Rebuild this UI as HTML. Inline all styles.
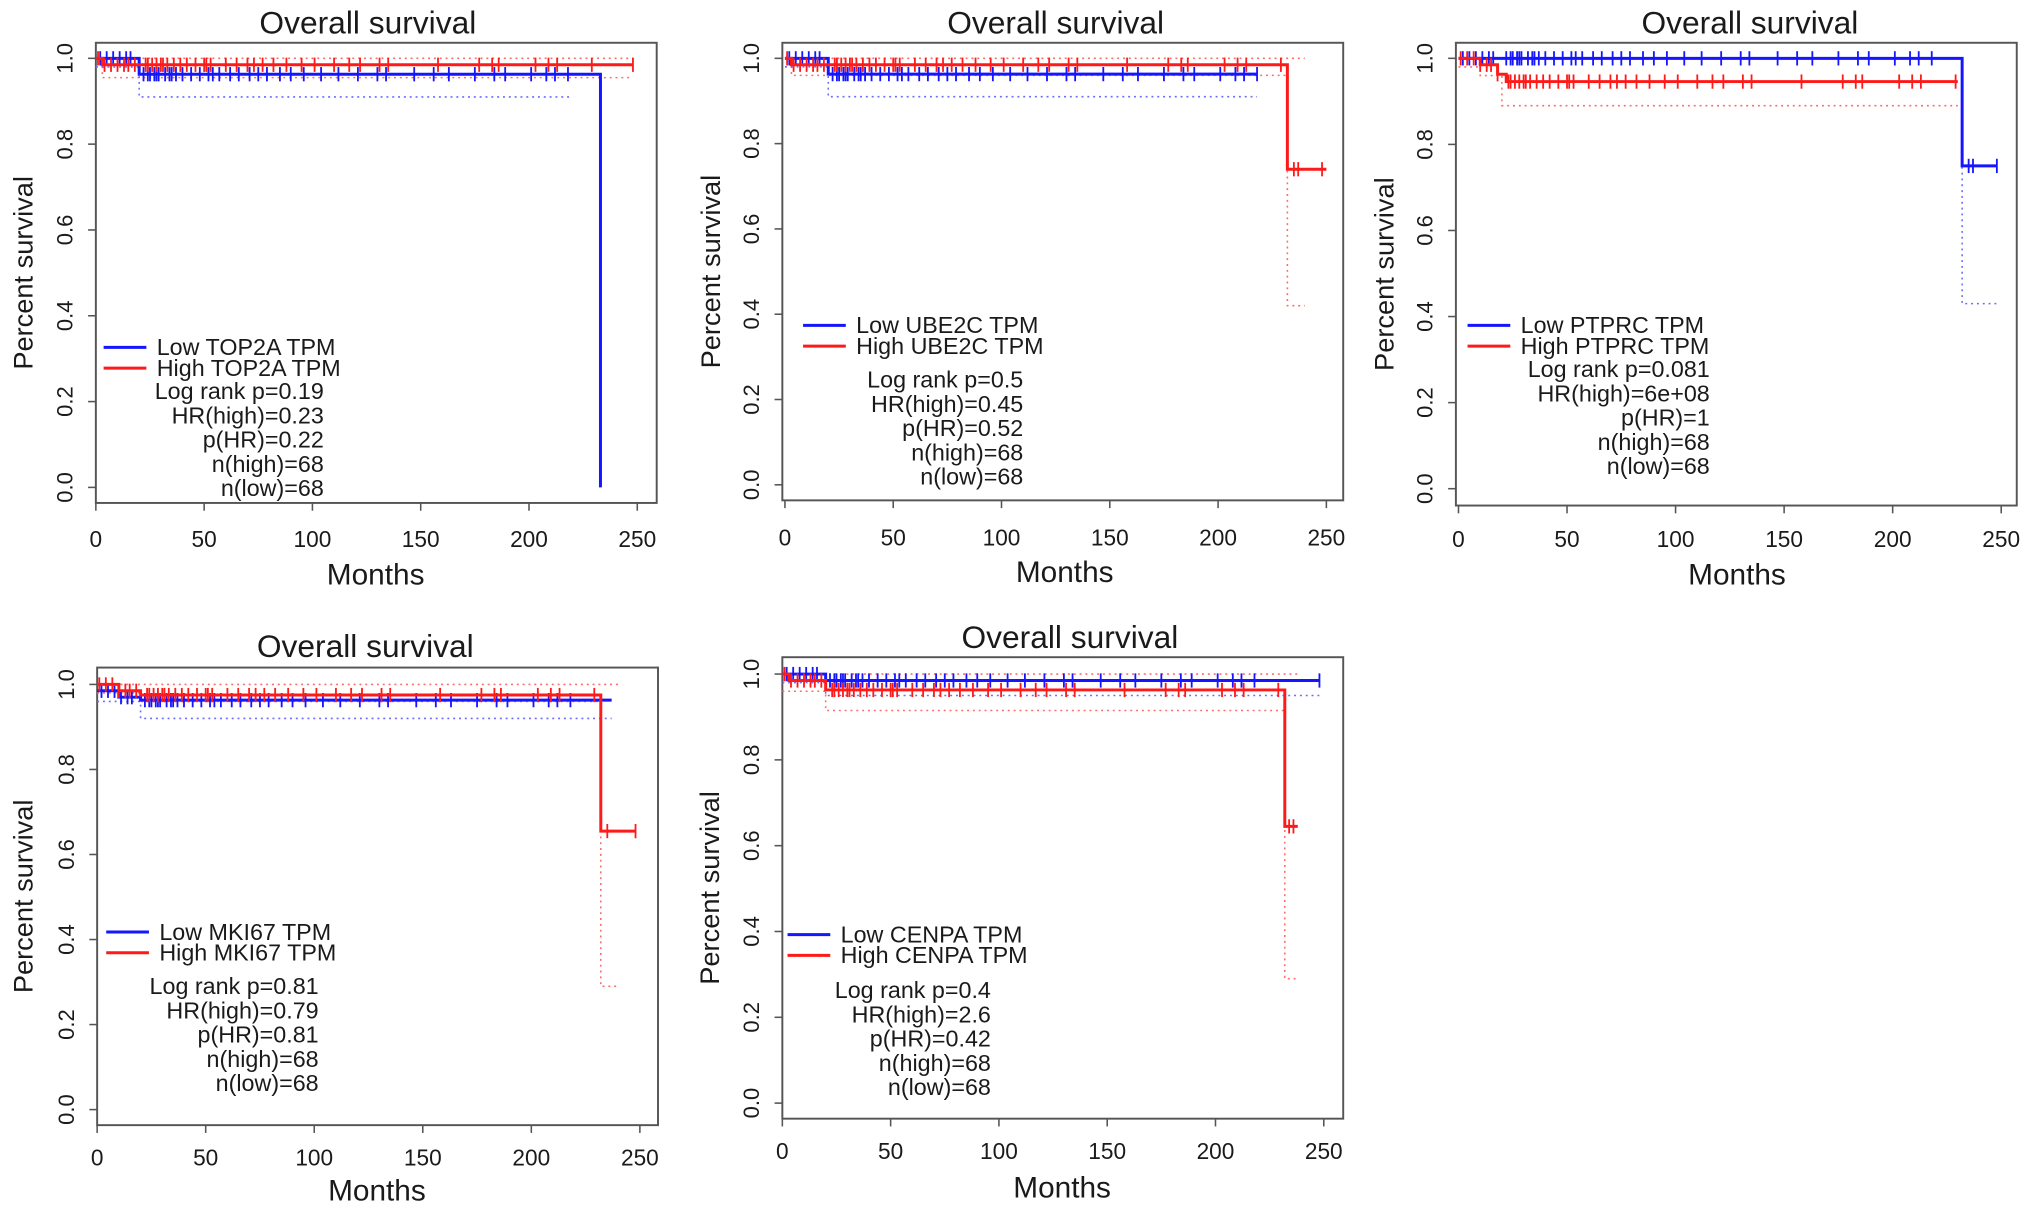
<!DOCTYPE html>
<html><head><meta charset="utf-8"><style>
html,body{margin:0;padding:0;background:#fff;}
svg{display:block;}
text{font-family:"Liberation Sans",Arial,sans-serif;fill:#1a1a1a;}
</style></head><body>
<svg id="fig" width="2031" height="1212" viewBox="0 0 1568 935" preserveAspectRatio="none" xmlns="http://www.w3.org/2000/svg"></svg>
<script>
// ---- data ----
const xTicks = [0, 50, 100, 150, 200, 250];
const yTicks = [0.0, 0.2, 0.4, 0.6, 0.8, 1.0];
const yTickLabels = ["0.0", "0.2", "0.4", "0.6", "0.8", "1.0"];
const genes = ["TOP2A", "UBE2C", "PTPRC", "MKI67", "CENPA"];
const statsLogRank = ["0.19", "0.5", "0.081", "0.81", "0.4"];
const statsHR = ["0.23", "0.45", "6e+08", "0.79", "2.6"];
const statsPHR = ["0.22", "0.52", "1", "0.81", "0.42"];
const nHigh = [68, 68, 68, 68, 68];
const nLow = [68, 68, 68, 68, 68];

// survival step curves: times / values (low = blue, high = red)
const lowTimes = [[0, 20, 233, 233], [0, 20, 218], [0, 232, 248], [0, 10, 20, 237], [0, 20, 248]];
const lowSurv = [[1.0, 0.963, 0.0, 0.0], [1.0, 0.963, 0.963], [1.0, 0.75, 0.75], [0.985, 0.97, 0.963, 0.963], [1.0, 0.985, 0.985]];
const highTimes = [[0, 3, 248], [0, 3, 232, 250], [0, 10, 18, 22, 230], [0, 10, 20, 232, 248], [0, 3, 20, 232, 238]];
const highSurv = [[1.0, 0.985, 0.985], [1.0, 0.985, 0.74, 0.74], [1.0, 0.985, 0.963, 0.946, 0.946], [1.0, 0.985, 0.975, 0.655, 0.655], [1.0, 0.985, 0.963, 0.645, 0.645]];
// CI lower bounds
const lowCITimes = [[0, 20, 220], [0, 20, 218], [0, 232, 248], [0, 20, 237], [0, 20, 248]];
const lowCIVals = [[0.98, 0.91, 0.91], [0.98, 0.91, 0.91], [1.0, 0.43, 0.43], [0.96, 0.92, 0.92], [0.98, 0.95, 0.95]];
const highCITimes = [[0, 3, 248], [0, 3, 232, 240], [0, 10, 20, 230], [0, 20, 232, 240], [0, 20, 232, 238]];
const highCIVals = [[0.98, 0.955, 0.955], [0.98, 0.96, 0.42, 0.42], [0.98, 0.96, 0.89, 0.89], [0.98, 0.96, 0.29, 0.29], [0.96, 0.915, 0.29, 0.29]];
// censor times
const censorA = [2, 5, 8, 11, 14, 16, 22, 24, 25, 27, 28, 29, 32, 34, 35, 37, 40, 44, 48, 52, 54, 57, 62, 66, 71, 75, 79, 85, 90, 96, 104, 112, 121, 130, 134, 147, 156, 163, 175, 184, 189, 201, 208, 212, 218];
const censorB = [1, 4, 7, 10, 13, 15, 18, 23, 24, 26, 28, 30, 31, 33, 36, 39, 42, 46, 50, 51, 53, 60, 65, 70, 73, 77, 82, 88, 95, 101, 110, 117, 122, 131, 135, 158, 177, 183, 186, 203, 209, 213, 229];
const lateLow = [[], [], [235, 237, 248], [], [248]];
const lateHigh = [[248], [235, 237, 248], [], [235, 248], [234, 236]];

// ---- layout (in viewBox units) ----
const panels = [
 {x0:74, x250:492, y1:45, y0:376, box:[74,33,507,388], tx:284, ty:18, tick:416, mx:290, my:443, yl:18, leg:[268,284], lx:80, sx:250, sy:302},
 {x0:606, x250:1024, y1:45, y0:374, box:[604,33,1037,386], tx:815, ty:18, tick:415, mx:822, my:441, yl:549, leg:[251,267], lx:620, sx:790, sy:293},
 {x0:1126, x250:1545, y1:45, y0:377, box:[1124,33,1557,390], tx:1351, ty:18, tick:416, mx:1341, my:443, yl:1069, leg:[251,267], lx:1133, sx:1320, sy:285},
 {x0:75, x250:494, y1:528, y0:856, box:[75,515,508,868], tx:282, ty:499, tick:893, mx:291, my:918, yl:18, leg:[719,735], lx:82, sx:246, sy:761},
 {x0:604, x250:1022, y1:520, y0:851, box:[604,507,1037,863], tx:826, ty:492, tick:888, mx:820, my:916, yl:548, leg:[721,737], lx:608, sx:765, sy:764}
];
const NS = "http://www.w3.org/2000/svg";
const fig = document.getElementById("fig");
function mk(tag, attrs, parent){const e=document.createElementNS(NS,tag);for(const k in attrs)e.setAttribute(k,attrs[k]);(parent||fig).appendChild(e);return e;}
function stepD(ts, vs, sx, sy){let d="M"+sx(ts[0])+","+sy(vs[0]);for(let i=1;i<ts.length;i++){d+=" H"+sx(ts[i])+" V"+sy(vs[i]);}return d;}
function survAt(ts, vs, t){let v=vs[0];for(let i=0;i<ts.length;i++){if(ts[i]<=t)v=vs[i];}return v;}

panels.forEach((p, i) => {
  const g = mk("g", {});
  
  
  const sx = t => p.x0 + (p.x250 - p.x0) * t / 250;
  const sy = v => p.y0 + (p.y1 - p.y0) * v;
  const b = p.box;
  const box = mk("rect", {x:b[0], y:b[1], width:b[2]-b[0], height:b[3]-b[1], fill:"none", stroke:"#555", "stroke-width":1.5}, g);
  
  
  const title = mk("text", {x:p.tx, y:p.ty+8, "font-size":24.5, "text-anchor":"middle"}, g);
  title.textContent = "Overall survival";
  
  
  // x axis
  xTicks.forEach(t => {
    mk("line", {x1:sx(t), x2:sx(t), y1:b[3], y2:b[3]+6, stroke:"#555", "stroke-width":1.2}, g);
    const tl = mk("text", {x:sx(t), y:p.tick+6, "font-size":17.5, "text-anchor":"middle"}, g);
    tl.textContent = t;
    
    
  });
  const xt = mk("text", {x:p.mx, y:p.my+8, "font-size":23, "text-anchor":"middle"}, g);
  xt.textContent = "Months";
  
  
  // y axis
  yTicks.forEach((v, k) => {
    mk("line", {x1:b[0], x2:b[0]-6, y1:sy(v), y2:sy(v), stroke:"#555", "stroke-width":1.2}, g);
    const tl = mk("text", {x:0, y:0, "font-size":17, "text-anchor":"middle", transform:"translate("+(b[0]-18)+","+sy(v)+") rotate(-90)"}, g);
    tl.textContent = yTickLabels[k];
    
    
  });
  const yt = mk("text", {x:0, y:0, "font-size":21, "text-anchor":"middle", transform:"translate("+(p.yl+7)+","+((b[1]+b[3])/2)+") rotate(-90)"}, g);
  yt.textContent = "Percent survival";
  
  
  // CI lines
  const ciH = mk("path", {d:stepD(highCITimes[i], highCIVals[i], sx, sy), fill:"none", stroke:"#ff6b6b", "stroke-width":1.2, "stroke-dasharray":"1.5,3"}, g);
  
  
  const ciHu = mk("line", {x1:sx(0), x2:sx(highCITimes[i][highCITimes[i].length-1]), y1:sy(1), y2:sy(1), stroke:"#ff6b6b", "stroke-width":1.2, "stroke-dasharray":"1.5,3"}, g);
  
  
  const ciL = mk("path", {d:stepD(lowCITimes[i], lowCIVals[i], sx, sy), fill:"none", stroke:"#6b6bff", "stroke-width":1.2, "stroke-dasharray":"1.5,3"}, g);
  
  
  // curves
  const series = [
    {ts:lowTimes[i], vs:lowSurv[i], c:"#1515ff", cens:censorA, late:lateLow[i], name:"low"},
    {ts:highTimes[i], vs:highSurv[i], c:"#ff1a1a", cens:censorB, late:lateHigh[i], name:"high"}
  ];
  series.forEach(s => {
    const path = mk("path", {d:stepD(s.ts, s.vs, sx, sy), fill:"none", stroke:s.c, "stroke-width":2.3}, g);
    
    
    const endT = s.ts[s.ts.length-1];
    s.cens.concat(s.late).forEach(t => {
      if (t > endT) return;
      const v = survAt(s.ts, s.vs, t);
      const m = mk("line", {x1:sx(t), x2:sx(t), y1:sy(v)-5.5, y2:sy(v)+5.5, stroke:s.c, "stroke-width":1.4}, g);
      
      
    });
  });
  // legend
  const lg = mk("g", {}, g);
  
  
  [["Low "+genes[i]+" TPM", "#1515ff"], ["High "+genes[i]+" TPM", "#ff1a1a"]].forEach((e, k) => {
    const y = p.leg[k];
    mk("line", {x1:p.lx, x2:p.lx+33, y1:y, y2:y, stroke:e[1], "stroke-width":2.3}, lg);
    const t = mk("text", {x:p.lx+41, y:y+6, "font-size":18, "textLength": undefined}, lg);
    t.removeAttribute("textLength");
    t.textContent = e[0];
    
    
  });
  const stats = ["Log rank p=" + statsLogRank[i], "HR(high)=" + statsHR[i], "p(HR)=" + statsPHR[i], "n(high)=" + nHigh[i], "n(low)=" + nLow[i]];
  stats.forEach((s, k) => {
    const t = mk("text", {x:p.sx, y:p.sy + k*18.7 + 6, "font-size":18, "text-anchor":"end"}, lg);
    t.textContent = s;
    
    
  });
});
</script>
</body></html>
